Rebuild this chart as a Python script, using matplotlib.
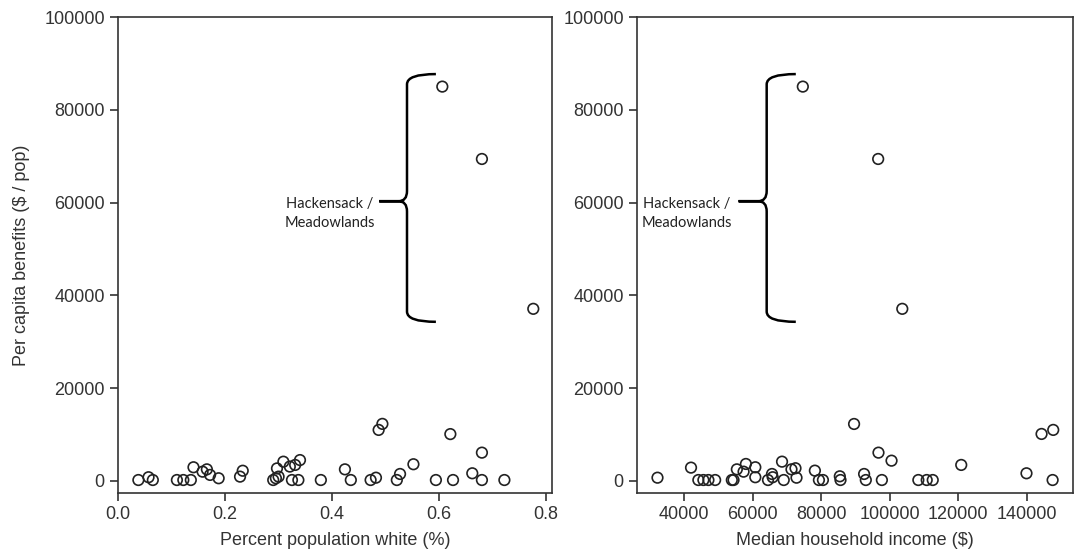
import numpy as np
import matplotlib.pyplot as plt
from matplotlib.path import Path
from matplotlib.patches import PathPatch

# Per capita benefits ($ / pop) vs percent population white
pct_white = [0.038, 0.057, 0.065, 0.110, 0.122, 0.136, 0.141, 0.158, 0.166, 0.172,
             0.188, 0.228, 0.233, 0.290, 0.295, 0.300, 0.297, 0.309, 0.321, 0.325,
             0.337, 0.331, 0.340, 0.379, 0.424, 0.435, 0.472, 0.482, 0.487, 0.494,
             0.521, 0.527, 0.552, 0.594, 0.621, 0.626, 0.662, 0.680, 0.680, 0.722,
             0.606, 0.680, 0.776]
benefit_white = [200, 800, 200, 200, 200, 200, 2950, 2000, 2500, 1300,
                 580, 930, 2200, 200, 580, 930, 2700, 4150, 3100, 200,
                 200, 3450, 4500, 200, 2500, 200, 200, 700, 11000, 12300,
                 200, 1500, 3600, 200, 10100, 200, 1650, 6100, 200, 200,
                 85000, 69400, 37100]

# Per capita benefits vs median household income
income = [32170, 41960, 44100, 45570, 47040, 49000, 53870, 54370, 55340, 57300,
          57980, 60730, 60730, 64430, 65600, 65800, 68530, 69030, 71290, 72460,
          72760, 78120, 79300, 80470, 85400, 85600, 89560, 92490, 92990, 96690,
          97680, 100500, 108330, 110770, 112530, 120850, 139900, 144300, 147710, 147530,
          74600, 96600, 103640]
benefit_income = [700, 2870, 200, 200, 200, 200, 200, 200, 2500, 2000,
                  3660, 2950, 800, 200, 1500, 800, 4160, 200, 2500, 2740,
                  700, 2220, 200, 200, 1000, 200, 12280, 1500, 200, 6100,
                  200, 4370, 200, 200, 200, 3450, 1650, 10130, 11000, 200,
                  85000, 69400, 37100]

yticks = [0, 20000, 40000, 60000, 80000, 100000]
note = "Hackensack /\nMeadowlands"

plt.rcParams['font.family'] = ['Liberation Sans', 'DejaVu Sans']
ink = '#333333'

fig = plt.figure(figsize=(10.79, 5.56), dpi=100)
ax1 = fig.add_axes([0.1094, 0.1133, 0.4022, 0.8561])
ax2 = fig.add_axes([0.5904, 0.1133, 0.4041, 0.8561])


def brace(ax, x_hook, x_line, x_tip, y_top, y_mid, y_bot, rx, ry):
    verts = [(x_hook, y_top), (x_line, y_top), (x_line, y_top - ry),
             (x_line, y_mid + ry), (x_line, y_mid), (x_line - rx, y_mid),
             (x_tip, y_mid), (x_line - rx, y_mid),
             (x_line, y_mid), (x_line, y_mid - ry),
             (x_line, y_bot + ry), (x_line, y_bot), (x_hook, y_bot)]
    codes = [Path.MOVETO, Path.CURVE3, Path.CURVE3,
             Path.LINETO, Path.CURVE3, Path.CURVE3,
             Path.LINETO, Path.LINETO,
             Path.CURVE3, Path.CURVE3,
             Path.LINETO, Path.CURVE3, Path.CURVE3]
    ax.add_patch(PathPatch(Path(verts, codes), fill=False, lw=1.8,
                           edgecolor='black', capstyle='butt'))


for ax, xs, ys in [(ax1, pct_white, benefit_white), (ax2, income, benefit_income)]:
    ax.scatter(xs, ys, s=58, facecolors='none', edgecolors='#222222',
               linewidths=1.2, zorder=3)
    ax.set_ylim(-2600, 100000)
    ax.set_yticks(yticks)
    for sp in ax.spines.values():
        sp.set_color(ink)
        sp.set_linewidth(1.2)
    ax.tick_params(direction='out', length=6, width=1.2, color=ink,
                   labelsize=13, labelcolor=ink)

ax1.set_xlim(0.0, 0.811)
ax1.set_xticks([0.0, 0.2, 0.4, 0.6, 0.8])
ax1.set_xlabel("Percent population white (%)", fontsize=13, color=ink, labelpad=6)
ax1.set_ylabel("Per capita benefits ($ / pop)", fontsize=13, color=ink, labelpad=10)

ax2.set_xlim(26200, 153500)
ax2.set_xticks([40000, 60000, 80000, 100000, 120000, 140000])
ax2.set_xlabel("Median household income ($)", fontsize=13, color=ink, labelpad=6)

# Hackensack / Meadowlands braces
brace(ax1, 0.594, 0.540, 0.488, 87700, 60300, 34300, 0.016, 2200)
brace(ax2, 72550, 64050, 55840, 87700, 60300, 34300, 2500, 2200)
ax1.text(0.396, 57600, note, ha='center', va='center', fontsize=10.5,
         family=['Lato', 'DejaVu Sans'], color='#222222', linespacing=1.45)
ax2.text(40700, 57600, note, ha='center', va='center', fontsize=10.5,
         family=['Lato', 'DejaVu Sans'], color='#222222', linespacing=1.45)

fig.savefig('out.png', dpi=100)
